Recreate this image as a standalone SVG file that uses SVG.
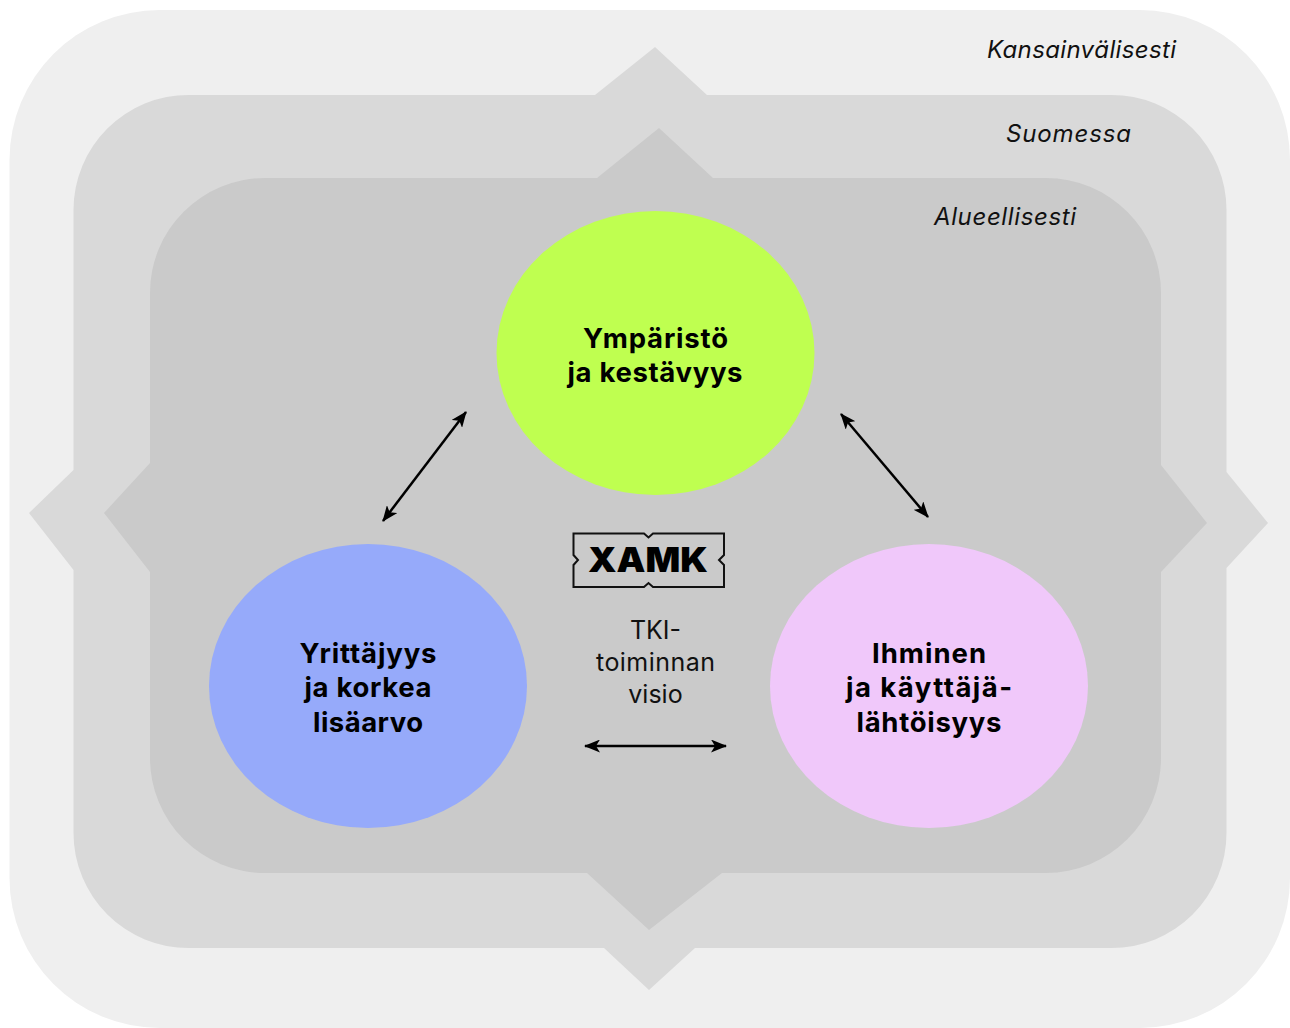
<svg xmlns="http://www.w3.org/2000/svg" width="1290" height="1028" viewBox="0 0 1290 1028">
<style>
.lvl{font:italic 400 24px "Inter","Noto Sans",sans-serif;fill:#111}
.h{font:700 27.500px "Inter","Noto Sans",sans-serif;fill:#000;text-anchor:middle}
.v{font:400 25px "Inter","Noto Sans",sans-serif;fill:#111;text-anchor:middle}
.a{fill:none;stroke:#000;stroke-width:2.500;marker-start:url(#ah);marker-end:url(#ah)}
</style>
<defs><marker id="ah" viewBox="0 0 16 13" refX="15" refY="6.500" markerWidth="16" markerHeight="13" markerUnits="userSpaceOnUse" orient="auto-start-reverse"><path d="M0 0L16 6.500L0 13L4 6.500Z" fill="#000"/></marker></defs>
<rect width="1290" height="1028" fill="#fff"/>
<g id="level-international"><rect x="9.500" y="10" width="1280.500" height="1018" rx="150" fill="#efefef"/><text class="lvl" x="987" y="58" textLength="189">Kansainvälisesti</text></g>
<g id="level-finland"><path d="M189 95H595L655 47L707 95H1111A115 115 0 0 1 1226.500 210V472L1268 523L1226.500 568V833A115 115 0 0 1 1111 948H695L649 990L604 948H189A115 115 0 0 1 73.500 833V570L29 513L73.500 470V210A115 115 0 0 1 189 95Z" fill="#d9d9d9"/><text class="lvl" x="1006" y="142" textLength="125">Suomessa</text></g>
<g id="level-regional"><path d="M265 178H597L659 128L713 178H1046A115 115 0 0 1 1161 293V465L1207 523L1161 572V758A115 115 0 0 1 1046 873H722L649 930L587 873H265A115 115 0 0 1 150 758V572L104 513L150 463V293A115 115 0 0 1 265 178Z" fill="#cacaca"/><text class="lvl" x="934" y="225" textLength="142">Alueellisesti</text></g>
<g id="node-environment"><ellipse cx="655.500" cy="353" rx="159" ry="142" fill="#bfff50"/><text class="h" x="655.500" y="348" textLength="145">Ympäristö</text><text class="h" x="655" y="382" textLength="175">ja kestävyys</text></g>
<g id="node-enterprise"><ellipse cx="368" cy="686" rx="159" ry="142" fill="#96aafa"/><text class="h" x="368" y="663" textLength="137">Yrittäjyys</text><text class="h" x="368" y="697" textLength="127">ja korkea</text><text class="h" x="368" y="732" textLength="110">lisäarvo</text></g>
<g id="node-human"><ellipse cx="929" cy="686" rx="159" ry="142" fill="#f0c8fa"/><text class="h" x="929" y="663" textLength="114">Ihminen</text><text class="h" x="929" y="697" textLength="166">ja käyttäjä-</text><text class="h" x="929" y="732" textLength="145">lähtöisyys</text></g>
<g id="node-xamk"><path d="M573.500 533.500H644L648.500 537.500L653 533.500H724V555L719 560L724 565V587H653L648.500 583L644 587H573.500V565L578 560L573.500 555Z" fill="none" stroke="#111" stroke-width="2"/><text x="648" y="572" text-anchor="middle" textLength="120" lengthAdjust="spacingAndGlyphs" style="font:900 34px Inter,sans-serif;fill:#000">XAMK</text><text class="v" x="655.500" y="639">TKI-</text><text class="v" x="655.500" y="671" textLength="119">toiminnan</text><text class="v" x="655.500" y="703">visio</text></g>
<g id="connectors"><path class="a" d="M466 412L383 521"/><path class="a" d="M841 414L928 517"/><path class="a" d="M585 746H726"/></g>
</svg>
